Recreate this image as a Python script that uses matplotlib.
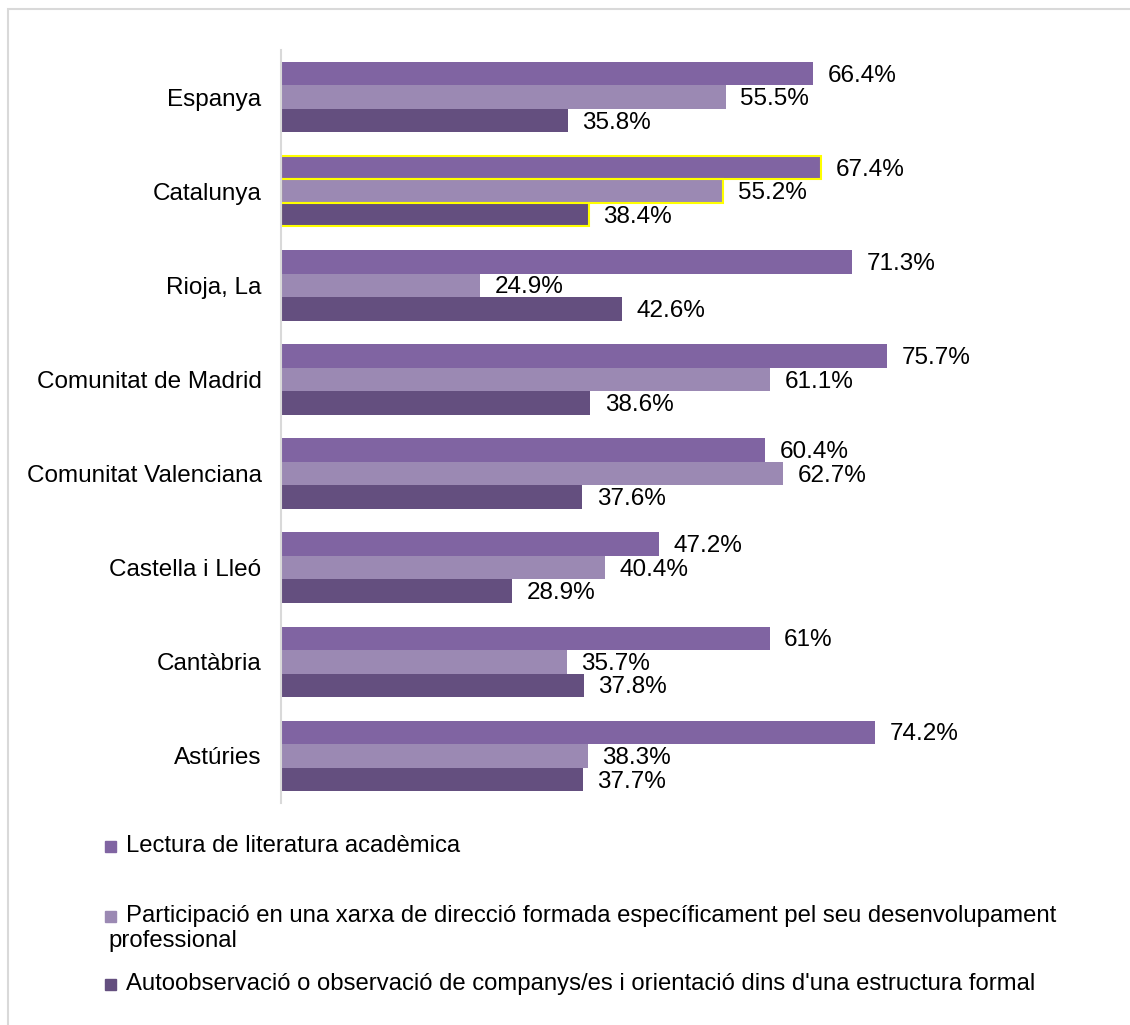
import matplotlib.pyplot as plt
from matplotlib.patches import Rectangle
import numpy as np

plt.rcParams['font.family'] = ['Liberation Sans', 'DejaVu Sans']

regions = ['Espanya', 'Catalunya', 'Rioja, La', 'Comunitat de Madrid',
           'Comunitat Valenciana', 'Castella i Lleó', 'Cantàbria', 'Astúries']
lectura = [66.4, 67.4, 71.3, 75.7, 60.4, 47.2, 61, 74.2]
xarxa = [55.5, 55.2, 24.9, 61.1, 62.7, 40.4, 35.7, 38.3]
observacio = [35.8, 38.4, 42.6, 38.6, 37.6, 28.9, 37.8, 37.7]

series_names = [
    ['Lectura de literatura acadèmica'],
    ['Participació en una xarxa de direcció formada específicament pel seu desenvolupament',
     'professional'],
    ["Autoobservació o observació de companys/es i orientació dins d'una estructura formal"],
]
colors = ['#8064A2', '#9B89B3', '#644F7F']
highlight = 'Catalunya'
fs = 17.5
fs_leg = 17.2

W, H = 1130, 1025
fig = plt.figure(figsize=(W / 100, H / 100), dpi=100)

# outer frame
fig.patches.append(Rectangle((8 / W, -0.01), 1.2, 1 - 9 / H + 0.01,
                             transform=fig.transFigure, fill=False,
                             edgecolor='#D9D9D9', linewidth=1.5))

ax = fig.add_axes([281 / W, 1 - 803 / H, 801 / W, 753 / H])

y = np.arange(len(regions))
h = 0.25
for i, vals in enumerate([lectura, xarxa, observacio]):
    pos = y + (i - 1) * h
    edge = ['#FFFF00' if r == highlight else 'none' for r in regions]
    ax.barh(pos, vals, height=h, color=colors[i], edgecolor=edge, linewidth=1.5)
    for p, v in zip(pos, vals):
        ax.annotate(f'{v:g}%', (v, p), xytext=(10.5, -1.5), textcoords='offset points',
                    ha='left', va='center', fontsize=fs, color='#000000')

ax.set_xlim(0, 100)
ax.set_ylim(len(regions) - 0.5, -0.5)
ax.set_yticks(y)
ax.set_yticklabels(regions, fontsize=fs)
ax.tick_params(axis='y', length=0, pad=14)
ax.set_xticks([])
for s in ['top', 'right', 'bottom']:
    ax.spines[s].set_visible(False)
ax.spines['left'].set_color('#D9D9D9')
ax.spines['left'].set_linewidth(1.5)

# legend drawn by hand
leg_y = [846, 916, 984]
for lines, c, ly in zip(series_names, colors, leg_y):
    fig.patches.append(Rectangle((105 / W, 1 - (ly + 6) / H), 11 / W, 11 / H,
                                 transform=fig.transFigure, color=c))
    fig.text(126 / W, 1 - ly / H, lines[0], fontsize=fs_leg, va='center', ha='left')
    for k, extra in enumerate(lines[1:], start=1):
        fig.text(108 / W, 1 - (ly + 25 * k) / H, extra, fontsize=fs_leg,
                 va='center', ha='left')

fig.savefig('out.png', dpi=100)
